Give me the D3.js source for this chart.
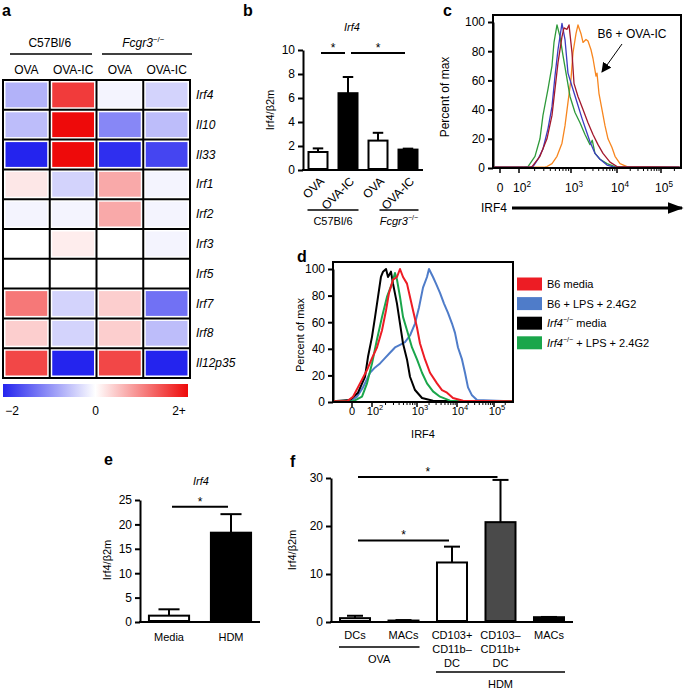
<!DOCTYPE html>
<html>
<head>
<meta charset="utf-8">
<script src="https://cdn.jsdelivr.net/npm/d3@7"></script>
<style>
  body { margin: 0; background: #fff; }
  svg { font-family: "Liberation Sans", Arial, Helvetica, sans-serif; }
  .axis path, .axis line { stroke: #000; stroke-width: 2; }
  .axis text { font-size: 12px; fill: #000; font-family: "Liberation Sans", Arial, sans-serif; }
</style>
</head>
<body>
<div id="chart"></div>
<script>
// ---------- data ----------
// a: heatmap (z-scores, -2..2+)
const heatGroups = ['C57Bl/6', 'Fcgr3'];
const heatCols = ['OVA', 'OVA-IC', 'OVA', 'OVA-IC'];
const heatRows = ['Irf4', 'Il10', 'Il33', 'Irf1', 'Irf2', 'Irf3', 'Irf5', 'Irf7', 'Irf8', 'Il12p35'];
const heatValues = [
  [-0.7, 1.6, -0.1, -0.4],
  [-0.6, 2.2, -1.1, -0.6],
  [-2.0, 2.2, -1.9, -1.7],
  [0.2, -0.4, 0.7, -0.1],
  [-0.1, -0.1, 0.7, -0.1],
  [0.0, 0.15, 0.0, -0.1],
  [0.0, 0.0, 0.0, 0.0],
  [1.1, -0.4, 0.4, -1.3],
  [0.4, -0.4, 0.4, -0.6],
  [1.5, -2.0, 1.5, -2.0]
];
const heatScaleTicks = [-2, 0, 2];
const heatScaleLabels = ['\u22122', '0', '2+'];

// b: Irf4/b2m, OVA vs OVA-IC
const bCats = ['OVA', 'OVA-IC', 'OVA', 'OVA-IC'];
const bValues = [1.5, 6.4, 2.45, 1.7];
const bErrors = [0.3, 1.35, 0.65, 0.08];
const bTicks = [0, 2, 4, 6, 8, 10];
const bSig = [[0, 1, 9.75], [1, 3, 9.75]];

// c: histograms (IRF4 intensity, percent of max)
const cGreen = [[-37, 0.5], [120, 0.5], [149, 1], [203, 8], [253, 20], [289, 36], [361, 54], [431, 70], [471, 86], [538, 98], [614, 90], [702, 77], [838, 61], [957, 49], [1222, 38], [1570, 31], [2014, 23], [2588, 16], [2900, 19], [3325, 10], [4270, 6], [6061, 3], [9058, 1], [262144, 0.5]];
const cBlue = [[-37, 0.5], [160, 0.5], [186, 1], [232, 6], [289, 13], [361, 27], [431, 42], [492, 63], [562, 81], [671, 99], [767, 88], [875, 65], [1051, 56], [1350, 45], [1734, 34], [2226, 24], [2588, 18], [3325, 10], [4270, 6], [6061, 2], [9058, 0.5], [262144, 0.5]];
const cMaroon = [[-37, 0.5], [160, 0.5], [178, 1], [253, 8], [345, 20], [431, 36], [492, 54], [562, 72], [671, 90], [733, 96], [838, 95], [916, 98], [1051, 79], [1162, 58], [1419, 49], [1823, 40], [2341, 31], [3008, 23], [3862, 16], [4962, 10], [7043, 4], [10000, 1], [262144, 0.5]];
const cOrange = [[-37, 0.5], [300, 0.5], [345, 1], [431, 3], [538, 8], [671, 17], [767, 29], [875, 45], [1000, 61], [1105, 79], [1284, 92], [1419, 98], [1649, 92], [1823, 86], [2118, 88], [2341, 87], [2721, 81], [3008, 75], [3495, 63], [3674, 65], [4060, 51], [4720, 40], [5483, 29], [6371, 20], [7783, 14], [9058, 8], [11700, 3], [16900, 1], [262144, 0.5]];
const cNote = 'B6 + OVA-IC';

// d: histograms
const dLegend = ['B6 media', 'B6 + LPS + 2.4G2', 'Irf4 media', 'Irf4 + LPS + 2.4G2'];
const dRed = [[-95, 0.5], [-25, 0.5], [5, 4], [40, 14], [75, 24], [100, 33], [129, 41], [167, 54], [205, 69], [239, 82], [293, 92], [359, 94], [419, 100], [489, 94], [599, 89], [699, 79], [815, 69], [1000, 56], [1189, 44], [1585, 32], [2113, 22], [3162, 14], [4217, 9], [5623, 7], [7943, 3], [14510, 1], [300000, 0.5]];
const dBlue = [[-95, 0.5], [-10, 0.5], [25, 4], [55, 11], [90, 22], [117, 26], [151, 29], [194, 33], [251, 37], [324, 41], [419, 43], [541, 45], [699, 50], [903, 59], [1122, 71], [1413, 86], [1778, 94], [1995, 100], [2512, 94], [2985, 89], [3758, 82], [4732, 74], [5957, 67], [7499, 59], [8913, 52], [10640, 41], [13650, 32], [16450, 22], [19820, 11], [25420, 5], [34690, 1.5], [300000, 0.5]];
const dBlack = [[-95, 0.5], [-10, 1.5], [30, 7], [65, 19], [80, 34], [100, 49], [117, 64], [136, 79], [158, 94], [176, 98], [205, 100], [227, 94], [264, 98], [293, 89], [359, 74], [419, 59], [489, 44], [599, 32], [699, 19], [903, 9], [1334, 3], [2512, 1], [300000, 0.5]];
const dGreen = [[-95, 0.5], [5, 0.5], [50, 4], [75, 14], [100, 29], [129, 47], [167, 64], [215, 79], [278, 89], [324, 97], [359, 92], [419, 79], [489, 64], [599, 54], [774, 41], [1000, 32], [1334, 22], [1778, 14], [2512, 8], [3758, 4], [6683, 1], [300000, 0.5]];

const flowTicks = [0, 100, 1000, 10000, 100000];
const flowTickExp = ['', '2', '3', '4', '5'];
const flowMinor = [200, 300, 400, 500, 600, 700, 800, 900, 2000, 3000, 4000, 5000, 6000, 7000, 8000, 9000,
  20000, 30000, 40000, 50000, 60000, 70000, 80000, 90000, 200000];
const pctTicks = [0, 20, 40, 60, 80, 100];

// e: HDM
const eCats = ['Media', 'HDM'];
const eValues = [1.3, 18.3];
const eErrors = [1.3, 3.8];
const eTicks = [0, 5, 10, 15, 20, 25];

// f: cell types
const fCats = ['DCs', 'MACs', 'CD103+\nCD11b\u2013\nDC', 'CD103\u2013\nCD11b+\nDC', 'MACs'];
const fValues = [0.8, 0.3, 12.4, 20.8, 1.0];
const fErrors = [0.5, 0.1, 3.3, 8.8, 0.05];
const fTicks = [0, 10, 20, 30];
const fSig = [[0, 3, 30.2], [0, 2, 17.0]];
const fGroups = [['OVA', 0, 1], ['HDM', 2, 4]];

// ---------- drawing ----------
const svg = d3.select('#chart').append('svg').attr('width', 685).attr('height', 691);

function txt(x, y, s, size, anchor, extra) {
  const t = svg.append('text').attr('x', x).attr('y', y).attr('font-size', size)
    .attr('text-anchor', anchor || 'middle').text(s);
  if (extra) extra(t);
  return t;
}
function hline(x1, x2, y, w) {
  svg.append('line').attr('x1', x1).attr('x2', x2).attr('y1', y).attr('y2', y)
    .attr('stroke', '#000').attr('stroke-width', w || 1.5);
}
function panelLabel(s, x, y) {
  txt(x, y, s, 16, 'start', t => t.attr('font-weight', 'bold'));
}
function koLabel(t, gene, rest) {
  // gene name in italics with -/- superscript
  t.text(null);
  t.append('tspan').attr('font-style', 'italic').text(gene);
  t.append('tspan').attr('font-size', '0.65em').attr('dy', -5).text('\u2212/\u2212');
  if (rest) t.append('tspan').attr('dy', 5).text(rest);
}

// ===== a: heatmap =====
panelLabel('a', 2, 16);
const hx = d3.scaleBand().domain(d3.range(heatCols.length)).range([3, 190]);
const hy = d3.scaleBand().domain(heatRows).range([80, 378]);
const heatColor = d3.scaleLinear().domain([-2, 0, 2]).range(['#2424ee', '#ffffff', '#ee0a0a']).clamp(true);

txt(hx(0) + hx.bandwidth(), 47, heatGroups[0], 12);
hline(10, 92, 54);
koLabel(txt(hx(2) + hx.bandwidth(), 47, '', 12), heatGroups[1]);
hline(102, 192, 54);
heatCols.forEach((c, j) => txt(hx(j) + hx.bandwidth() / 2, 74, c, 12));

heatRows.forEach((r, i) => {
  heatCols.forEach((c, j) => {
    svg.append('rect')
      .attr('x', hx(j) + 2.5).attr('y', hy(r) + 2.5)
      .attr('width', hx.bandwidth() - 5).attr('height', hy.bandwidth() - 5)
      .attr('fill', heatColor(heatValues[i][j]));
  });
  txt(196, hy(r) + hy.bandwidth() / 2 + 4, r, 12, 'start', t => t.attr('font-style', 'italic'));
});
d3.range(heatCols.length + 1).forEach(j => {
  const x = j < heatCols.length ? hx(j) : hx.range()[1];
  svg.append('line').attr('x1', x).attr('x2', x).attr('y1', 79).attr('y2', 379)
    .attr('stroke', '#000').attr('stroke-width', 2);
});
d3.range(heatRows.length + 1).forEach(i => {
  const y = i < heatRows.length ? hy(heatRows[i]) : hy.range()[1];
  hline(2, 191, y, 2);
});

// colour bar
const grad = svg.append('defs').append('linearGradient').attr('id', 'cbar');
grad.selectAll('stop').data([-2, 0, 2]).join('stop')
  .attr('offset', (d, i) => i * 50 + '%').attr('stop-color', d => heatColor(d));
svg.append('rect').attr('x', 3).attr('y', 384).attr('width', 185).attr('height', 13).attr('fill', 'url(#cbar)');
const cbScale = d3.scaleLinear().domain([-2, 2]).range([12, 179]);
heatScaleTicks.forEach((v, i) => txt(cbScale(v), 415, heatScaleLabels[i], 12));

// ===== bar chart helper =====
function barChart(o) {
  const x = d3.scaleBand().domain(d3.range(o.values.length)).range(o.xr)
    .paddingInner(o.pi).paddingOuter(o.po);
  const y = d3.scaleLinear().domain(o.yd).range(o.yr);
  svg.append('g').attr('class', 'axis').attr('transform', `translate(${o.xr[0]},0)`)
    .call(d3.axisLeft(y).tickValues(o.ticks).tickSize(5).tickSizeOuter(0).tickPadding(3))
    .selectAll('text').attr('font-size', o.fs);
  hline(o.xr[0] - 1, o.xr[1], o.yr[0], 2);
  const bw = x.bandwidth();
  o.values.forEach((v, i) => {
    const cx = x(i) + bw / 2;
    const top = y(v + o.errors[i]);
    svg.append('line').attr('x1', cx).attr('x2', cx).attr('y1', y(v)).attr('y2', top)
      .attr('stroke', '#000').attr('stroke-width', 2);
    svg.append('line').attr('x1', cx - bw * 0.25).attr('x2', cx + bw * 0.25).attr('y1', top).attr('y2', top)
      .attr('stroke', '#000').attr('stroke-width', 2);
    svg.append('rect').attr('x', x(i) + 1).attr('y', y(v))
      .attr('width', bw - 2).attr('height', Math.max(0, y(0) - y(v) - 1))
      .attr('fill', o.fills[i]).attr('stroke', '#000').attr('stroke-width', 2);
  });
  (o.sig || []).forEach(s => {
    const x1 = x(s[0]) + bw / 2 + 3, x2 = x(s[1]) + bw / 2 - 3, yy = y(s[2]);
    hline(x1, x2, yy, 2);
    txt((x1 + x2) / 2, yy - 1, '*', 12);
  });
  return { x, y, bw };
}

// ===== b =====
panelLabel('b', 243, 16);
txt(352, 31, 'Irf4', 11, 'middle', t => t.attr('font-style', 'italic'));
const bChart = barChart({
  values: bValues, errors: bErrors, xr: [303, 423], pi: 0.3, po: 0.15,
  yd: [0, 10], yr: [170, 50], ticks: bTicks, fs: 12,
  fills: ['#fff', '#000', '#fff', '#000'], sig: bSig
});
bCats.forEach((c, i) => {
  const cx = bChart.x(i) + bChart.bw / 2;
  svg.append('text').attr('transform', `translate(${cx + 7},${182}) rotate(-45)`)
    .attr('text-anchor', 'end').attr('font-size', 12).text(c);
});
txt(274, 110, 'Irf4/\u03b22m', 11, 'middle', t => t.attr('transform', 'rotate(-90,274,110)'));
hline(bChart.x(0), bChart.x(1) + bChart.bw, 210);
txt((bChart.x(0) + bChart.x(1) + bChart.bw) / 2, 225, 'C57Bl/6', 11);
hline(bChart.x(2) + 12, bChart.x(3) + bChart.bw, 210);
koLabel(txt((bChart.x(2) + 12 + bChart.x(3) + bChart.bw) / 2, 225, '', 11), 'Fcgr3');

// ===== flow panels helper =====
const tf = v => (v <= 100 ? v / 100 : 1 + Math.log10(v / 100));
function flowPanel(o) {
  const x = d3.scaleLinear().domain(o.td).range(o.px);
  const y = d3.scaleLinear().domain([0, 100]).range(o.py);
  const left = o.px[0], right = o.px[o.px.length - 1];
  svg.append('g').attr('class', 'axis').attr('transform', `translate(${left},0)`)
    .call(d3.axisLeft(y).tickValues(pctTicks).tickSize(5).tickSizeOuter(0).tickPadding(3))
    .selectAll('text').attr('font-size', o.fs);
  const line = d3.line().x(d => x(tf(d[0]))).y(d => y(d[1]));
  o.series.forEach(s => {
    svg.append('path').datum(s.data).attr('d', line).attr('fill', 'none')
      .attr('stroke', s.color).attr('stroke-width', o.lw).attr('stroke-linejoin', 'round');
  });
  svg.append('rect').attr('x', left).attr('y', o.top).attr('width', right - left)
    .attr('height', o.py[0] - o.top).attr('fill', 'none').attr('stroke', '#000').attr('stroke-width', 2);
  flowMinor.forEach(v => {
    svg.append('line').attr('x1', x(tf(v))).attr('x2', x(tf(v))).attr('y1', o.py[0]).attr('y2', o.py[0] + 3)
      .attr('stroke', '#000').attr('stroke-width', 1);
  });
  flowTicks.forEach((v, i) => {
    svg.append('line').attr('x1', x(tf(v))).attr('x2', x(tf(v))).attr('y1', o.py[0]).attr('y2', o.py[0] + 5)
      .attr('stroke', '#000').attr('stroke-width', 1.5);
    const t = txt(x(tf(v)) + (i ? 3 : 0), o.tickY, i ? '10' : '0', o.fs);
    if (i) t.append('tspan').attr('font-size', o.fs * 0.68).attr('dy', -5).text(flowTickExp[i]);
  });
  return { x, y };
}

// ===== c =====
panelLabel('c', 443, 16);
flowPanel({
  td: [-0.37, 0, 1, 2, 3, 4, 4.45], px: [493, 500, 519, 571, 617, 661, 681],
  py: [168, 22], top: 15, fs: 12, lw: 1.3, tickY: 192,
  series: [
    { data: cOrange, color: '#f7861f' },
    { data: cGreen, color: '#2e9a3a' },
    { data: cBlue, color: '#3c3cc0' },
    { data: cMaroon, color: '#a3182c' }
  ]
});
txt(449, 97, 'Percent of max', 12, 'middle', t => t.attr('transform', 'rotate(-90,449,97)'));
txt(632, 38, cNote, 12);
const defs = svg.select('defs');
defs.append('marker').attr('id', 'ah').attr('viewBox', '0 0 10 10').attr('refX', 9).attr('refY', 5)
  .attr('markerWidth', 10).attr('markerHeight', 10).attr('markerUnits', 'userSpaceOnUse').attr('orient', 'auto')
  .append('path').attr('d', 'M0,0L10,5L0,10z').attr('fill', '#000');
svg.append('line').attr('x1', 622).attr('y1', 44).attr('x2', 602).attr('y2', 72)
  .attr('stroke', '#000').attr('stroke-width', 1).attr('marker-end', 'url(#ah)');
txt(494, 212, 'IRF4', 12);
defs.append('marker').attr('id', 'ah2').attr('viewBox', '0 0 10 10').attr('refX', 9).attr('refY', 5)
  .attr('markerWidth', 16).attr('markerHeight', 12).attr('markerUnits', 'userSpaceOnUse').attr('orient', 'auto')
  .attr('preserveAspectRatio', 'none')
  .append('path').attr('d', 'M0,0L10,5L0,10z').attr('fill', '#000');
svg.append('line').attr('x1', 512).attr('y1', 208).attr('x2', 682).attr('y2', 208)
  .attr('stroke', '#000').attr('stroke-width', 3).attr('marker-end', 'url(#ah2)');

// ===== d =====
panelLabel('d', 297, 262);
const dColors = ['#ed1c24', '#4f7cc9', '#000000', '#1aa64b'];
flowPanel({
  td: [-0.95, 0, 1, 2, 3, 4, 4.51], px: [333, 352, 372, 417, 457, 494, 513],
  py: [402, 269], top: 262, fs: 11, lw: 2, tickY: 415,
  series: [
    { data: dBlue, color: dColors[1] },
    { data: dBlack, color: dColors[2] },
    { data: dGreen, color: dColors[3] },
    { data: dRed, color: dColors[0] }
  ]
});
txt(304, 335, 'Percent of max', 11, 'middle', t => t.attr('transform', 'rotate(-90,304,335)'));
txt(423, 438, 'IRF4', 11);
dLegend.forEach((s, i) => {
  const cy = 284 + i * 19.6;
  svg.append('rect').attr('x', 517).attr('y', cy - 6.5).attr('width', 25).attr('height', 13).attr('fill', dColors[i]);
  const t = txt(547, cy + 4, s, 11, 'start');
  if (s.startsWith('Irf4')) koLabel(t, 'Irf4', s.slice(4));
});

// ===== e =====
panelLabel('e', 104, 465);
txt(201, 485, 'Irf4', 11, 'middle', t => t.attr('font-style', 'italic'));
const eChart = barChart({
  values: eValues, errors: eErrors, xr: [140, 260], pi: 0.32, po: 0.128,
  yd: [0, 25], yr: [622, 500], ticks: eTicks, fs: 11,
  fills: ['#fff', '#000'], sig: [[0, 1, 23.6]]
});
eCats.forEach((c, i) => txt(eChart.x(i) + eChart.bw / 2, 641, c, 11));
txt(111, 560, 'Irf4/\u03b22m', 11, 'middle', t => t.attr('transform', 'rotate(-90,111,560)'));

// ===== f =====
panelLabel('f', 290, 467);
const fChart = barChart({
  values: fValues, errors: fErrors, xr: [331, 573], pi: 0.34, po: 0.165,
  yd: [0, 30], yr: [622, 478], ticks: fTicks, fs: 11,
  fills: ['#fff', '#000', '#fff', '#4a4a4a', '#000'], sig: fSig
});
fCats.forEach((c, i) => {
  const t = txt(fChart.x(i) + fChart.bw / 2, 639, '', 11);
  c.split('\n').forEach((s, k) => t.append('tspan').attr('x', fChart.x(i) + fChart.bw / 2).attr('dy', k ? 14 : 0).text(s));
});
fGroups.forEach((g, k) => {
  const x1 = fChart.x(g[1]), x2 = fChart.x(g[2]) + fChart.bw;
  const yy = k ? 672 : 647;
  hline(x1, x2, yy);
  txt((x1 + x2) / 2, yy + 16, g[0], 11);
});
txt(296, 550, 'Irf4/\u03b22m', 11, 'middle', t => t.attr('transform', 'rotate(-90,296,550)'));
</script>
</body>
</html>
